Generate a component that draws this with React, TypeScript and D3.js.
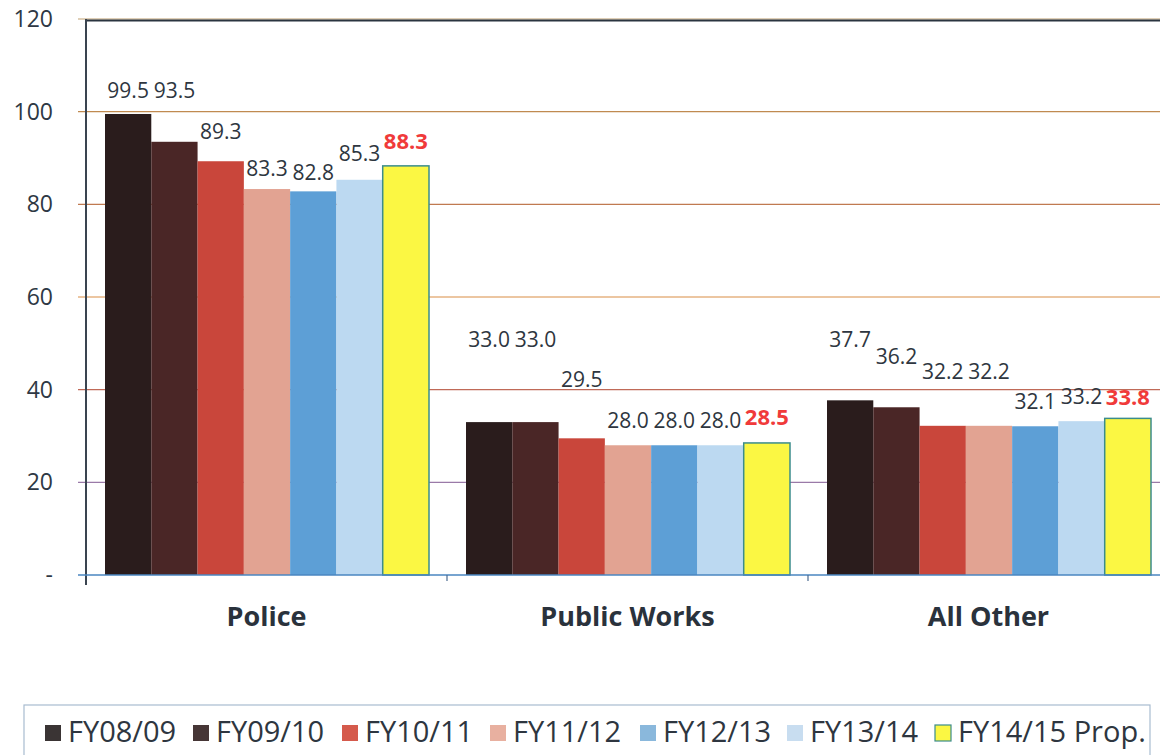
import React from "react";
import * as d3 from "d3";

const categories = ["Police", "Public Works", "All Other"];
const series = ["FY08/09", "FY09/10", "FY10/11", "FY11/12", "FY12/13", "FY13/14", "FY14/15 Prop."];
const police = [99.5, 93.5, 89.3, 83.3, 82.8, 85.3, 88.3];
const publicWorks = [33.0, 33.0, 29.5, 28.0, 28.0, 28.0, 28.5];
const allOther = [37.7, 36.2, 32.2, 32.2, 32.1, 33.2, 33.8];
// where each value label sits, in axis units (labels were hand-placed in the source)
const policeLabelAt = [104.6, 104.6, 95.6, 87.8, 86.9, 91.0, 93.6];
const publicWorksLabelAt = [50.9, 50.9, 42.1, 33.4, 33.4, 33.4, 34.1];
const allOtherLabelAt = [50.9, 47.2, 43.8, 43.8, 37.5, 38.4, 38.4];
const yTicks = [0, 20, 40, 60, 80, 100, 120];

const values = [police, publicWorks, allOther];
const labelAt = [policeLabelAt, publicWorksLabelAt, allOtherLabelAt];

const colors = ["#2a1c1c", "#4a2626", "#c9463b", "#e2a392", "#5d9fd6", "#bcd9f1", "#fbf743"];
const legendColors = ["#3a3434", "#463636", "#d55a4c", "#e8b0a0", "#8ab8dc", "#c8ddf0", "#fbf743"];
const gridColors = ["#6f8fc0", "#9a7aa8", "#c06a58", "#d98e44", "#c07a50", "#c08a50", "#c0a070"];

const FONT = "'Open Sans', 'Noto Sans', sans-serif";

export default function App() {
  const W = 1160, H = 755;
  const left = 86, right = 1169, top = 19, bottom = 575;
  const y = d3.scaleLinear().domain([0, 120]).range([bottom, top]);
  const x0 = d3.scaleBand<string>().domain(categories).range([left, right]).padding(0);
  const x1 = d3.scaleBand<string>().domain(series).range([19, x0.bandwidth() - 18]).padding(0);

  const legendX = [45, 193, 342, 490, 640, 787, 935];
  return (
    <svg width={W} height={H} style={{ position: "absolute", left: 0, top: 0, background: "#fff" }}>
      {/* gridlines */}
      {yTicks.filter(t => t > 0).map((t, i) => (
        <line key={t} x1={left - 8} x2={W} y1={y(t)} y2={y(t)} stroke={gridColors[i + 1]} strokeWidth={1.2} />
      ))}
      <line x1={left} x2={W} y1={y(120) + 1.5} y2={y(120) + 1.5} stroke="#2a3440" strokeWidth={2.2} />
      {/* bars */}
      {categories.map((c, ci) => (
        <g key={c} transform={`translate(${x0(c)},0)`}>
          {series.map((s, si) => (
            <rect key={s} x={x1(s)} y={y(values[ci][si])} width={x1.bandwidth()}
              height={y(0) - y(values[ci][si])} fill={colors[si]}
              stroke={si === 6 ? "#3b8c8c" : "none"} strokeWidth={si === 6 ? 1.5 : 0} />
          ))}
          {series.map((s, si) => (
            <text key={s + "l"} x={(x1(s) as number) + x1.bandwidth() / 2} y={y(labelAt[ci][si])}
              dy="0.35em" textAnchor="middle" fontFamily={FONT}
              fontSize={si === 6 ? 22 : 21} fontWeight={si === 6 ? 700 : 400}
              fill={si === 6 ? "#f03a3a" : "#2e3640"}>
              {values[ci][si].toFixed(1)}
            </text>
          ))}
          <text x={x0.bandwidth() / 2} y={617} dy="0.35em" textAnchor="middle" fontFamily={FONT}
            fontSize={27} fontWeight={700} fill="#2a323c">{c}</text>
        </g>
      ))}
      {/* axes */}
      <line x1={left} x2={left} y1={top} y2={bottom + 10} stroke="#3a4450" strokeWidth={2} />
      <line x1={left - 8} x2={W} y1={bottom} y2={bottom} stroke="#4a86c0" strokeWidth={1.5} />
      {categories.slice(1).map(c => (
        <line key={c} x1={x0(c)} x2={x0(c)} y1={bottom} y2={bottom + 6} stroke="#4a6a90" strokeWidth={1.2} />
      ))}
      {yTicks.map(t => (
        <text key={t} x={53} y={y(t)} dy="0.35em" textAnchor="end" fontFamily={FONT} fontSize={23} fill="#2e3844">
          {t === 0 ? "-" : t}
        </text>
      ))}
      {/* legend */}
      <rect x={24} y={705} width={1126} height={60} fill="#fff" stroke="#a8bcd0" strokeWidth={1.2} />
      {series.map((s, i) => (
        <g key={s}>
          <rect x={legendX[i]} y={725} width={16} height={16}
            fill={legendColors[i]} stroke={i === 6 ? "#3b8c8c" : "none"} strokeWidth={1.2} />
          <text x={legendX[i] + 23} y={732} dy="0.35em" fontFamily={FONT} fontSize={29} fill="#2e3640">{s}</text>
        </g>
      ))}
    </svg>
  );
}
